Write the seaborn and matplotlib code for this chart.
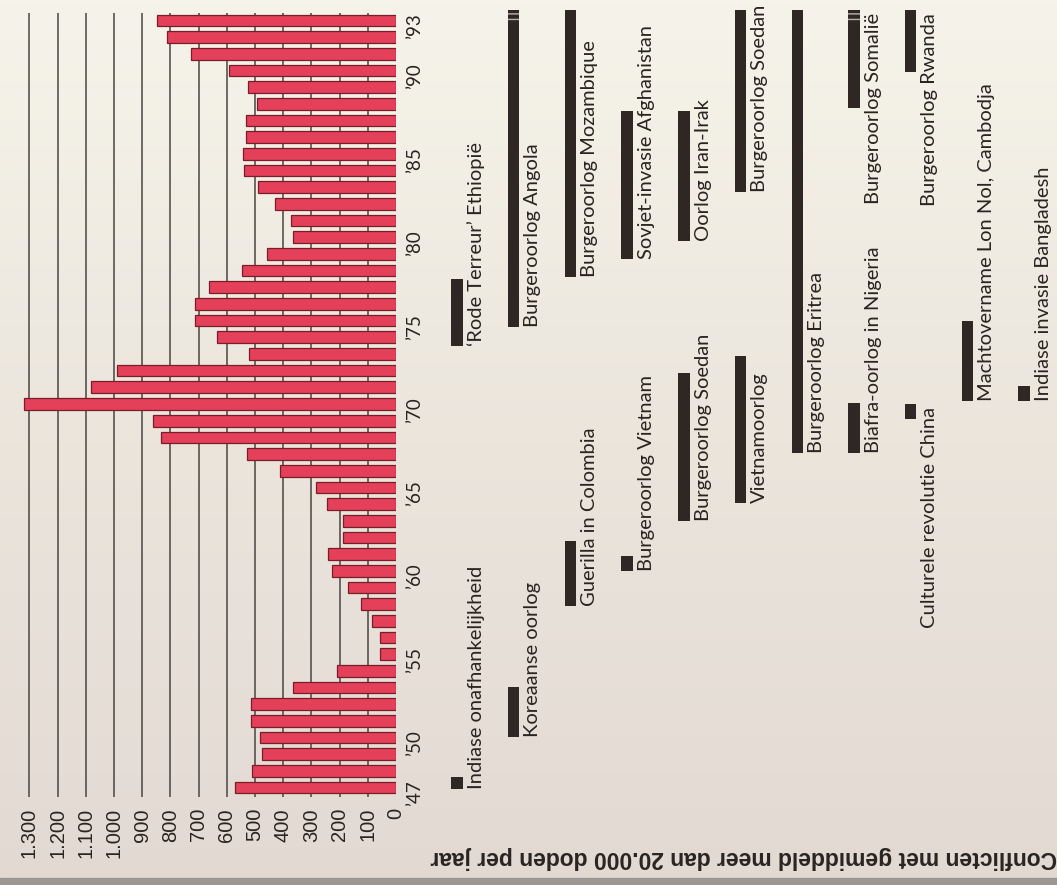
import numpy as np
import matplotlib
matplotlib.use("Agg")
import matplotlib.pyplot as plt
from matplotlib.patches import Rectangle
import seaborn as sns
import pandas as pd

# Average number of conflict dead per year
years = list(range(1947, 1994))
deaths = [571, 511, 475, 482, 514, 514, 365, 209, 55, 55, 85, 125, 170, 227,
          241, 188, 188, 245, 284, 411, 528, 833, 862, 1319, 1082, 989, 521,
          635, 713, 713, 663, 546, 457, 365, 372, 429, 489, 539, 543, 532,
          532, 493, 525, 592, 727, 812, 847]

value_ticks = [0, 100, 200, 300, 400, 500, 600, 700, 800, 900, 1000, 1100, 1200, 1300]
value_labels = ["0", "100", "200", "300", "400", "500", "600", "700", "800",
                "900", "1.000", "1.100", "1.200", "1.300"]
year_ticks = [1947, 1950, 1955, 1960, 1965, 1970, 1975, 1980, 1985, 1990, 1993]
year_labels = ["\u201947", "\u201950", "\u201955", "\u201960", "\u201965", "\u201970",
               "\u201975", "\u201980", "\u201985", "\u201990", "\u201993"]

# Conflicts: name, column, start, end, label anchored at top?, ongoing?
conflict_names = [
    "Indiase onafhankelijkheid", "\u2018Rode Terreur\u2019 Ethiopi\u00eb",
    "Koreaanse oorlog", "Burgeroorlog Angola",
    "Guerilla in Colombia", "Burgeroorlog Mozambique",
    "Burgeroorlog Vietnam", "Sovjet-invasie Afghanistan",
    "Burgeroorlog Soedan", "Oorlog Iran-Irak",
    "Vietnamoorlog", "Burgeroorlog Soedan",
    "Burgeroorlog Eritrea",
    "Biafra-oorlog in Nigeria", "Burgeroorlog Somali\u00eb",
    "Culturele revolutie China", "Burgeroorlog Rwanda",
    "Machtovername Lon Nol, Cambodja",
    "Indiase invasie Bangladesh",
]
conflict_cols = [0, 0, 1, 1, 2, 2, 3, 3, 4, 4, 5, 5, 6, 7, 7, 8, 8, 9, 10]
conflict_start = [1946.9, 1973.5, 1950.0, 1974.6, 1957.9, 1977.6, 1960.0, 1978.7,
                  1963.0, 1979.8, 1964.05, 1982.7, 1967.05, 1967.05, 1987.75,
                  1969.1, 1989.9, 1970.2, 1970.2]
conflict_end = [1947.6, 1977.5, 1953.0, 1993.6, 1961.8, 1993.6, 1960.9, 1987.6,
                1971.85, 1987.6, 1972.9, 1993.6, 1993.6, 1970.05, 1993.6,
                1970.0, 1993.6, 1975.0, 1971.1]
label_at_top = [False, False, False, False, False, False, False, False, False, False,
                False, False, False, False, True, True, True, False, False]
ongoing = [False, False, False, True, False, False, False, False, False, False,
           False, False, False, False, True, False, False, False, False]

title = "Conflicten met gemiddeld meer dan 20.000 doden per jaar"

sns.set_theme(style="white")

W, H = 1057, 885
fig = plt.figure(figsize=(W / 100, H / 100), dpi=100)
fig.patch.set_facecolor("#efebe2")

# paper background, slightly darker toward the bottom
bg = fig.add_axes([0, 0, 1, 1], zorder=-10)
grad = np.linspace(0, 1, 256).reshape(-1, 1)
cmap = matplotlib.colors.LinearSegmentedColormap.from_list("paper", ["#f6f4ea", "#ebe5dc", "#e2d9d3"])
bg.imshow(grad, aspect="auto", cmap=cmap, extent=[0, 1, 0, 1])
bg.axis("off")
bg.add_patch(Rectangle((0, 0), 1, 7 / H, color="#9c9792", transform=bg.transAxes))

ink = "#2a2421"
red = "#e4405a"

y_lo, y_hi = 1946.43, 1993.45
ax_bottom = 1 - 797 / H
ax_height = (797 - 13) / H

# ---- bar chart (value axis horizontal, bars growing to the left) ----
ax1 = fig.add_axes([21 / W, ax_bottom, (396 - 21) / W, ax_height])
ax1.set_facecolor("none")

ax1.vlines(value_ticks[1:], y_lo, y_hi, color="#4a4541", linewidth=1.1, zorder=0)

df = pd.DataFrame({"year": years, "deaths": deaths})
sns.barplot(data=df, x="deaths", y="year", orient="h", native_scale=True,
            color=red, saturation=1, width=0.7, edgecolor="#7a1d28",
            linewidth=0.9, ax=ax1, zorder=2)

ax1.set_xlim(1330, 0)
ax1.set_ylim(y_lo, y_hi)
ax1.set_xlabel("")
ax1.set_ylabel("")
ax1.set_xticks(value_ticks)
ax1.set_xticklabels(value_labels, rotation=90, fontsize=14.5,
                    family="Liberation Sans", color=ink)
ax1.set_yticks(year_ticks)
ax1.set_yticklabels(year_labels, rotation=90, fontsize=13.5, family="Lato", color=ink)
ax1.yaxis.tick_right()
ax1.tick_params(axis="x", length=0, pad=8)
ax1.tick_params(axis="y", length=0, pad=7)
for s in ax1.spines.values():
    s.set_visible(False)

# ---- conflict timeline ----
ax2 = fig.add_axes([430 / W, ax_bottom, (W - 430) / W, ax_height])
ax2.set_facecolor("none")
ax2.set_xlim(-0.476, 10.58)
ax2.set_ylim(y_lo, y_hi)
ax2.axis("off")

bar_dark = "#2f2724"
for name, col, t0, t1, top, ong in zip(conflict_names, conflict_cols, conflict_start,
                                       conflict_end, label_at_top, ongoing):
    ax2.bar(col, t1 - t0, bottom=t0, width=0.2, color=bar_dark, linewidth=0,
            clip_on=False)
    if ong:
        ax2.bar(col, 0.7, bottom=t1 - 0.7, width=0.2, color=bar_dark,
                edgecolor="#b9b2aa", linewidth=0, hatch="---", clip_on=False)
    if top:
        ax2.text(col + 0.34, t1 - 0.15, name, rotation=90, ha="center", va="top",
                 fontsize=14.5, family="Lato", color=ink)
    else:
        ax2.text(col + 0.34, t0, name, rotation=90, ha="center", va="bottom",
                 fontsize=14.5, family="Lato", color=ink)

# upside-down title along the bottom edge
fig.text(430 / W, 1 - 857 / H, title, rotation=180, ha="left", va="center",
         fontsize=16.5, fontweight="bold", family="Liberation Sans", color=ink)

fig.savefig("out.png", dpi=100, facecolor=fig.get_facecolor())
